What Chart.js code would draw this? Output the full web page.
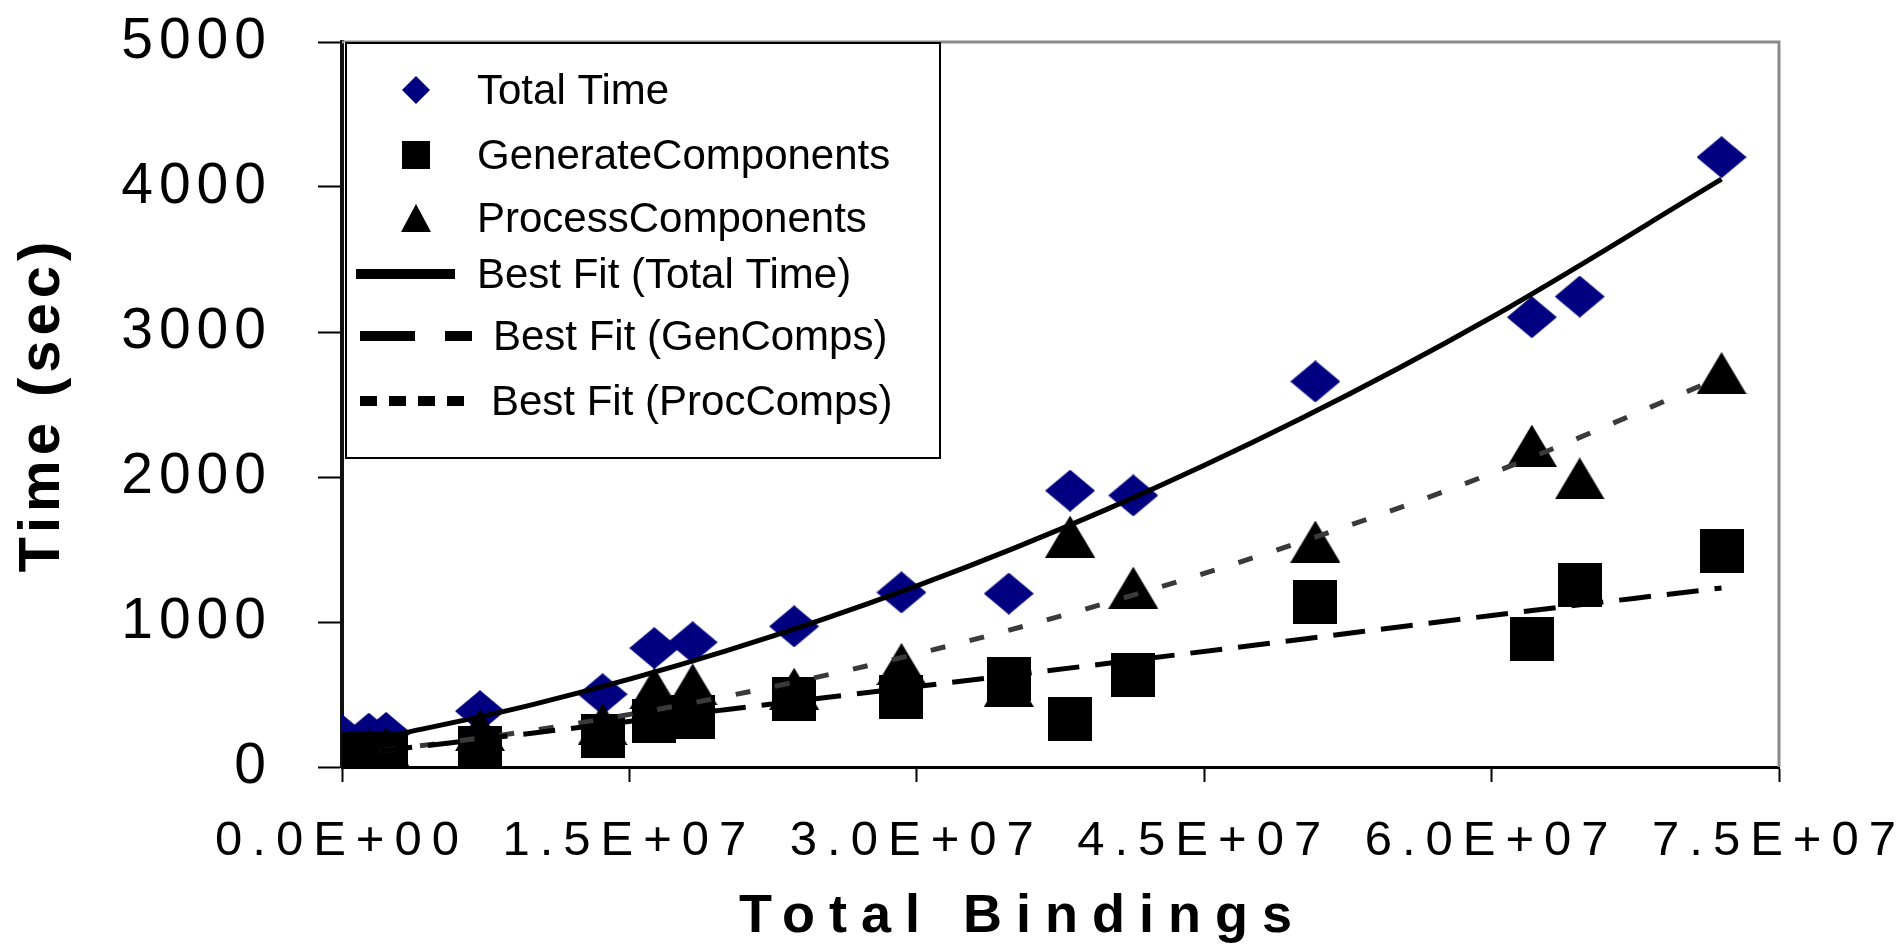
<!DOCTYPE html>
<html>
<head>
<meta charset="utf-8">
<script src="https://cdn.jsdelivr.net/npm/chart.js@4.4.1/dist/chart.umd.min.js"></script>
<style>
    html, body { margin: 0; padding: 0; background: #fff; }
</style>
</head>
<body>
<canvas id="bindingsChart" width="1901" height="947"></canvas>
<script>
// measured points (x = total bindings, y = seconds)
const bindings = [0.0e6, 1.4e6, 2.3e6, 7.2e6, 13.6e6, 16.3e6, 18.3e6, 23.6e6, 29.2e6, 34.8e6, 38.0e6, 41.3e6, 50.8e6, 62.1e6, 64.6e6, 72.0e6];
const totalTime = [220, 230, 235, 385, 502, 820, 860, 970, 1204, 1196, 1906, 1873, 2659, 3102, 3244, 4206];
const generateComponents = [90, 95, 100, 130, 215, 320, 343, 468, 485, 610, 334, 635, 1137, 886, 1254, 1488];
const processComponents = [110, 120, 130, 255, 295, 543, 569, 540, 711, 560, 1589, 1237, 1555, 2216, 1990, 2717];

// best fit curves
const fitBindings = [2e6, 1e7, 2e7, 3e7, 4e7, 5e7, 6e7, 7.2e7];
const fitTotal = [200, 432, 799, 1249, 1782, 2400, 3102, 4054];
const fitGen = [110, 235, 395, 555, 715, 880, 1045, 1235];
const fitProc = [110, 253, 486, 780, 1135, 1550, 2025, 2690];

const xTickValues = [0, 1.5e7, 3.0e7, 4.5e7, 6.0e7, 7.5e7];
const xTickLabels = ['0.0E+00', '1.5E+07', '3.0E+07', '4.5E+07', '6.0E+07', '7.5E+07'];
const yTickValues = [0, 1000, 2000, 3000, 4000, 5000];

const FONT = '"Liberation Sans", Arial, sans-serif';

function marker(shape, w, h, color) {
    const c = document.createElement('canvas');
    c.width = w;
    c.height = h;
    const g = c.getContext('2d');
    g.fillStyle = color;
    g.beginPath();
    if (shape === 'diamond') {
        g.moveTo(w / 2, 0); g.lineTo(w, h / 2); g.lineTo(w / 2, h); g.lineTo(0, h / 2);
    } else if (shape === 'triangle') {
        g.moveTo(w / 2, 0); g.lineTo(w, h); g.lineTo(0, h);
    } else {
        g.rect(0, 0, w, h);
    }
    g.closePath();
    g.fill();
    return c;
}

const pts = (xs, ys) => xs.map((x, i) => ({x: x, y: ys[i]}));

const bigDiamond = marker('diamond', 50, 42, '#000080');
const bigSquare = marker('square', 44, 44, '#000');
const bigTriangle = marker('triangle', 50, 42, '#000');

// letter spaced axis text + small shift of the x title
const spacing = {
    x: {labels: '10px', title: '14px', dx: -38},
    y: {labels: '6px', title: '5px', dx: 0}
};
const spacedText = {
    id: 'spacedText',
    beforeDraw(chart) {
        ['x', 'y'].forEach(id => {
            const s = chart.scales[id];
            if (s._spaced) return;
            const lab = s.drawLabels.bind(s);
            const tit = s.drawTitle.bind(s);
            s.drawLabels = function (area) {
                const c = this.ctx;
                c.save();
                c.letterSpacing = spacing[id].labels;
                lab(area);
                c.restore();
            };
            s.drawTitle = function () {
                const c = this.ctx;
                c.save();
                c.letterSpacing = spacing[id].title;
                c.translate(spacing[id].dx, 0);
                tit();
                c.restore();
            };
            s._spaced = true;
        });
    }
};

const plotFrame = {
    id: 'plotFrame',
    beforeDatasetsDraw(chart) {
        const a = chart.chartArea;
        const c = chart.ctx;
        c.save();
        c.strokeStyle = '#8a8a8a';
        c.lineWidth = 3;
        c.beginPath();
        c.moveTo(a.left, a.top);
        c.lineTo(a.right, a.top);
        c.lineTo(a.right, a.bottom);
        c.stroke();
        c.restore();
    }
};

const boxLegend = {
    id: 'boxLegend',
    afterDatasetsDraw(chart) {
        const c = chart.ctx;
        const ds = chart.data.datasets;
        c.save();
        c.fillStyle = '#fff';
        c.fillRect(344, 42, 596, 416);
        c.strokeStyle = '#000';
        c.lineWidth = 2;
        c.strokeRect(346, 43, 594, 415);

        c.font = '42px ' + FONT;
        c.fillStyle = '#000';
        c.textBaseline = 'middle';

        const rows = [
            {y: 90, img: marker('diamond', 28, 28, '#000080'), tx: 477},
            {y: 155, img: marker('square', 28, 28, '#000'), tx: 477},
            {y: 218, img: marker('triangle', 30, 28, '#000'), tx: 477},
            {y: 274, dash: [], tx: 477, x0: 356, x1: 455},
            {y: 336, dash: [55, 30], tx: 493, x0: 360, x1: 472},
            {y: 401, dash: [17, 12], tx: 491, x0: 360, x1: 466}
        ];
        rows.forEach((r, i) => {
            if (r.img) {
                c.drawImage(r.img, 416 - r.img.width / 2, r.y - r.img.height / 2);
            } else {
                c.save();
                c.strokeStyle = '#000';
                c.lineWidth = 10;
                c.setLineDash(r.dash);
                c.beginPath();
                c.moveTo(r.x0, r.y);
                c.lineTo(r.x1, r.y);
                c.stroke();
                c.restore();
            }
            c.fillText(ds[i].label, r.tx, r.y + 2);
        });
        c.restore();
    }
};

const ctx = document.getElementById('bindingsChart').getContext('2d');

const data = {
    datasets: [
        {label: 'Total Time', data: pts(bindings, totalTime), pointStyle: bigDiamond, order: 3},
        {label: 'GenerateComponents', data: pts(bindings, generateComponents), pointStyle: bigSquare, order: 2},
        {label: 'ProcessComponents', data: pts(bindings, processComponents), pointStyle: bigTriangle, order: 1},
        {label: 'Best Fit (Total Time)', data: pts(fitBindings, fitTotal), showLine: true, pointRadius: 0,
            borderColor: '#000', borderWidth: 5, cubicInterpolationMode: 'monotone', order: 0},
        {label: 'Best Fit (GenComps)', data: pts(fitBindings, fitGen), showLine: true, pointRadius: 0,
            borderColor: '#000', borderWidth: 5, borderDash: [32, 16], cubicInterpolationMode: 'monotone', order: 0},
        {label: 'Best Fit (ProcComps)', data: pts(fitBindings, fitProc), showLine: true, pointRadius: 0,
            borderColor: '#3a3a3a', borderWidth: 5, borderDash: [15, 25], cubicInterpolationMode: 'monotone', order: 0}
    ]
};

const options = {
    responsive: false,
    devicePixelRatio: 1,
    animation: false,
    layout: {padding: {top: 42, right: 122, left: 0, bottom: 0}},
    plugins: {
        legend: {display: false},
        tooltip: {enabled: false}
    },
    scales: {
        x: {
            type: 'linear',
            min: 0,
            max: 7.5e7,
            afterBuildTicks: s => { s.ticks = xTickValues.map(v => ({value: v})); },
            afterFit: s => { s.height = 180; s.paddingLeft = 0; s.paddingRight = 0; },
            ticks: {
                callback: (v, i) => xTickLabels[i],
                color: '#000',
                padding: 30,
                maxRotation: 0,
                autoSkip: false,
                font: {family: FONT, size: 49, lineHeight: 1.2}
            },
            grid: {drawOnChartArea: false, drawTicks: true, tickLength: 15, tickColor: '#000', tickWidth: 2},
            border: {display: true, color: '#000', width: 3},
            title: {
                display: true,
                text: 'Total Bindings',
                color: '#000',
                padding: {top: 0, bottom: 3},
                font: {family: FONT, size: 54, weight: 'bold', lineHeight: 1}
            }
        },
        y: {
            min: 0,
            max: 5000,
            afterBuildTicks: s => { s.ticks = yTickValues.map(v => ({value: v})); },
            afterFit: s => { s.width = 342; s.paddingTop = 0; s.paddingBottom = 0; },
            ticks: {
                callback: v => String(v),
                color: '#000',
                padding: 46,
                font: {family: FONT, size: 57}
            },
            grid: {drawOnChartArea: false, drawTicks: true, tickLength: 24, tickColor: '#000', tickWidth: 2},
            border: {display: true, color: '#111', width: 4},
            title: {
                display: true,
                text: 'Time (sec)',
                color: '#000',
                padding: {top: 14, bottom: 0},
                font: {family: FONT, size: 58, weight: 'bold', lineHeight: 1}
            }
        }
    }
};

const chart = new Chart(ctx, {
    type: 'scatter',
    data: data,
    options: options,
    plugins: [spacedText, plotFrame, boxLegend]
});
</script>
</body>
</html>
